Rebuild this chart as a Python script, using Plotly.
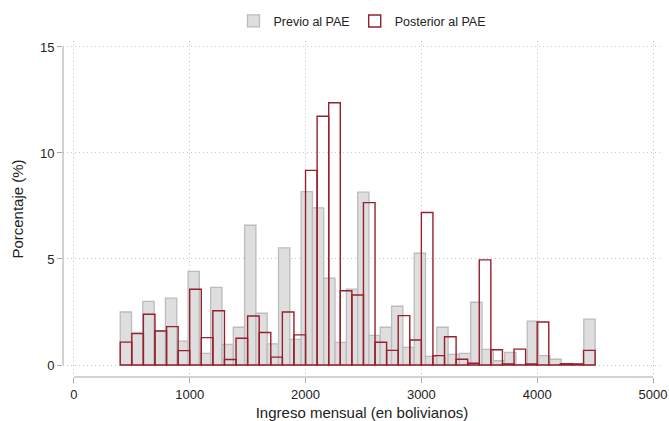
import plotly.graph_objects as go

# Bin definitions (ingreso mensual, bolivianos)
bin_start = 400
bin_end = 4500
n_bins_previo = 42
n_bins_posterior = 41

# Percent of observations per bin
previo_pct = [2.50, 1.54, 3.00, 1.62, 3.15, 1.13, 4.42, 0.55, 3.66, 0.97,
              1.78, 6.59, 2.44, 1.00, 5.52, 1.21, 8.18, 7.41, 4.09, 1.07,
              3.58, 8.15, 1.40, 1.78, 2.77, 0.83, 5.27, 0.41, 1.78, 0.50,
              0.55, 2.96, 0.74, 0.20, 0.60, 0.00, 2.07, 0.44, 0.27, 0.04,
              0.05, 2.16]
posterior_pct = [1.08, 1.48, 2.39, 1.60, 1.81, 0.68, 3.57, 1.29, 2.56, 0.26,
                 1.26, 2.31, 1.53, 0.37, 2.50, 1.42, 9.18, 11.73, 12.37, 3.50,
                 3.30, 7.66, 1.07, 0.69, 2.33, 1.18, 7.19, 0.44, 1.33, 0.27,
                 0.08, 4.96, 0.72, 0.05, 0.75, 0.05, 2.03, 0.00, 0.06, 0.05,
                 0.69]

x_ticks = [0, 1000, 2000, 3000, 4000, 5000]
y_ticks = [0, 5, 10, 15]


def centers(n):
    w = (bin_end - bin_start) / n
    return [bin_start + w * (k + 0.5) for k in range(n)], w


xp, wp = centers(n_bins_previo)
xq, wq = centers(n_bins_posterior)

font = "Liberation Sans, Arial, Helvetica, sans-serif"
axis_grey = "#a6a6a6"
grid_grey = "#c8c8c8"

fig = go.Figure()
fig.add_trace(go.Bar(
    x=xp, y=previo_pct, width=wp, name="Previo al PAE",
    marker=dict(color="rgb(222,222,222)",
                line=dict(color="rgb(188,188,188)", width=1.3)),
))
fig.add_trace(go.Bar(
    x=xq, y=posterior_pct, width=wq, name="Posterior al PAE",
    marker=dict(color="rgba(0,0,0,0)",
                line=dict(color="rgb(150,32,45)", width=1.4)),
))

fig.update_layout(
    width=669, height=421,
    margin=dict(l=63, r=8, t=41, b=44),
    barmode="overlay",
    paper_bgcolor="white", plot_bgcolor="white",
    font=dict(family=font, size=13, color="#222"),
    legend=dict(orientation="h", x=0.5, xanchor="center", y=0.985,
                yanchor="top", yref="container", font=dict(size=12.5),
                itemwidth=30, traceorder="normal"),
    showlegend=True,
    xaxis=dict(range=[-94, 5069], tickvals=x_ticks, ticks="outside",
               ticklen=5, tickcolor=axis_grey, showline=False,
               showgrid=True, gridcolor=grid_grey, griddash="1px,3px",
               gridwidth=1, zeroline=False, automargin=False,
               title=dict(text="Ingreso mensual (en bolivianos)",
                          font=dict(size=15), standoff=10),
               tickfont=dict(size=13)),
    yaxis=dict(range=[-0.566, 15.28], tickvals=y_ticks, ticks="outside",
               ticklen=5, tickcolor=axis_grey, showline=False,
               showgrid=True, gridcolor=grid_grey, griddash="1px,3px",
               gridwidth=1, zeroline=False, automargin=False,
               title=dict(text="Porcentaje (%)", font=dict(size=15),
                          standoff=12),
               tickfont=dict(size=13)),
)

# Stata-style axis lines spanning only the tick range
fig.add_shape(type="line", xref="x", yref="paper", x0=x_ticks[0], x1=x_ticks[-1],
              y0=0, y1=0, line=dict(color=axis_grey, width=1))
fig.add_shape(type="line", xref="paper", yref="y", x0=0, x1=0,
              y0=y_ticks[0], y1=y_ticks[-1], line=dict(color=axis_grey, width=1))

fig.write_html("out.html")
